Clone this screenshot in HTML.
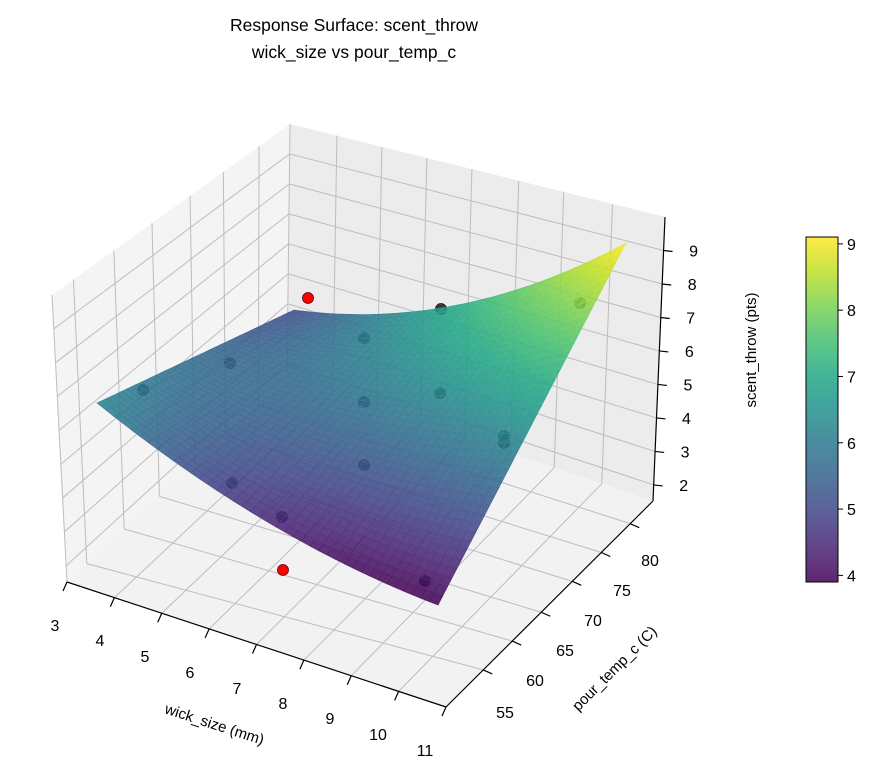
<!DOCTYPE html>
<html><head><meta charset="utf-8"><style>
html,body{margin:0;padding:0;background:#fff;}
svg{display:block;font-family:"Liberation Sans","DejaVu Sans",sans-serif;}
</style></head><body>
<svg id="s" width="883" height="775" viewBox="0 0 883 775" xmlns="http://www.w3.org/2000/svg">
<defs>
<linearGradient id="cb" x1="0" y1="1" x2="0" y2="0">
<stop offset="0" stop-color="#440154"/><stop offset="0.1" stop-color="#482475"/><stop offset="0.2" stop-color="#414487"/><stop offset="0.3" stop-color="#355f8d"/><stop offset="0.4" stop-color="#2a788e"/><stop offset="0.5" stop-color="#21918c"/><stop offset="0.6" stop-color="#22a884"/><stop offset="0.7" stop-color="#44bf70"/><stop offset="0.8" stop-color="#7ad151"/><stop offset="0.9" stop-color="#bddf26"/><stop offset="1" stop-color="#fde725"/>
</linearGradient>
</defs>
<text x="354" y="31" font-size="17.5" text-anchor="middle">Response Surface: scent_throw</text>
<text x="354" y="58" font-size="17.5" text-anchor="middle">wick_size vs pour_temp_c</text>
<polygon points="67,582 52,295 290,124 287,378" fill="#f4f4f4"/>
<polygon points="287,378 290,124 665,217 653,501" fill="#ececec"/>
<polygon points="67,582 446,707 653,501 287,378" fill="#f2f2f2"/>
<g id="grid" stroke="#bdbdbd" stroke-width="1" fill="none"></g>
<g id="pts0"></g>
<g id="surf"></g>
<g id="pts1"></g>
<g id="axes" stroke="#000" stroke-width="1.2" fill="none"></g>
<g id="lbl" font-size="16" fill="#000"></g>
<text x="213" y="729" font-size="15" text-anchor="middle" transform="rotate(18 213 729)">wick_size (mm)</text>
<text x="618" y="672" font-size="15" text-anchor="middle" transform="rotate(-45 618 672)">pour_temp_c (C)</text>
<text x="756" y="350" font-size="15" text-anchor="middle" transform="rotate(-90 756 350)">scent_throw (pts)</text>
<rect x="806" y="237" width="32" height="345" fill="url(#cb)" fill-opacity="0.85" stroke="#000" stroke-width="1"/>
<g id="cbt" font-size="16"></g>
</svg>
<script>
var NS="http://www.w3.org/2000/svg";
function el(p,t,a,txt){var e=document.createElementNS(NS,t);for(var k in a)e.setAttribute(k,a[k]);if(txt!==undefined)e.textContent=txt;document.getElementById(p).appendChild(e);return e;}
function lerp(a,b,t){return [a[0]+(b[0]-a[0])*t,a[1]+(b[1]-a[1])*t];}
var L=[67,582],Lt=[52,295],B=[287,378],Bt=[290,124],R=[653,501],Rt=[665,217],F=[446,707];
function ln(a,b){el("grid","line",{x1:a[0],y1:a[1],x2:b[0],y2:b[1]});}
var pL=[0.09,0.26,0.42,0.58,0.72,0.87], pF=[0.18,0.32,0.46,0.61,0.75,0.89];
pL.forEach(function(p,i){ln(lerp(L,B,p),lerp(Lt,Bt,p));ln(lerp(L,B,p),lerp(F,R,pF[i]));});
var qB=[0.125,0.245,0.365,0.485,0.61,0.73,0.86];
qB.forEach(function(q,i){var u=(i+1)/8;ln(lerp(B,R,q),lerp(Bt,Rt,q));ln(lerp(B,R,q),lerp(L,F,u));});
for(var z=2;z<=9;z++){var w=(z-1.52)/8.48;var a=lerp(L,Lt,w),b=lerp(B,Bt,w),c=lerp(R,Rt,w);ln(a,b);ln(b,c);}
ln(Lt,L);ln(Bt,B);
var stops=["#440154","#482475","#414487","#355f8d","#2a788e","#21918c","#22a884","#44bf70","#7ad151","#bddf26","#fde725"];
function hx(h){return [parseInt(h.substr(1,2),16),parseInt(h.substr(3,2),16),parseInt(h.substr(5,2),16)];}
function vir(v){v=Math.max(0,Math.min(1,v));var f=v*10,i=Math.min(9,Math.floor(f)),t=f-i;var a=hx(stops[i]),b=hx(stops[i+1]);return "rgb("+[0,1,2].map(function(k){return Math.round(a[k]+(b[k]-a[k])*t);}).join(",")+")";}
var SL=[97,403],SF=[438,605],SB=[294,310],SR=[626,243];
function P(s,t){var a=lerp(SL,SF,s),b=lerp(SB,SR,s),p=lerp(a,b,t);p[1]+=4*s*(1-s)*(18*(1-t)+28*t);return p;}
function C(s,t){return 0.45*(1-s)*(1-t)+0.0*s*(1-t)+0.22*(1-s)*t+1.0*s*t-0.12*4*s*(1-s)*(1-t);}
var N=40;
for(var i=0;i<N;i++)for(var j=0;j<N;j++){var s0=i/N,s1=(i+1)/N,t0=j/N,t1=(j+1)/N;var ps=[P(s0,t0),P(s1,t0),P(s1,t1),P(s0,t1)];var col=vir(C((s0+s1)/2,(t0+t1)/2));
el("surf","polygon",{points:ps.map(function(p){return p[0].toFixed(1)+","+p[1].toFixed(1);}).join(" "),fill:col,stroke:col,"stroke-width":"0.6","fill-opacity":"0.86","stroke-opacity":"0.86"});}
for(var k=1;k<N;k+=1){var col="rgba(255,255,255,0.12)";var a=[],b=[];for(var m=0;m<=N;m++){a.push(P(k/N,m/N).join(","));b.push(P(m/N,k/N).join(","));}
el("surf","polyline",{points:a.join(" "),fill:"none",stroke:col,"stroke-width":"0.5"});el("surf","polyline",{points:b.join(" "),fill:"none",stroke:col,"stroke-width":"0.5"});}
[[143,390],[230,363],[364,338],[441,309],[580,303],[364,402],[440,393],[504,436],[504,443],[364,465],[232,483],[282,517],[425,581]].forEach(function(p){el("pts0","circle",{cx:p[0],cy:p[1],r:5.5,fill:"#3a3a3a",stroke:"#111","stroke-width":"0.8"});});
[[308,298],[283,570]].forEach(function(p){el("pts1","circle",{cx:p[0],cy:p[1],r:5.5,fill:"#ff0000",stroke:"#600","stroke-width":"0.8"});});
function al(a,b){el("axes","line",{x1:a[0],y1:a[1],x2:b[0],y2:b[1]});}
al(L,F);al(F,R);al(R,Rt);
for(var u=0;u<=8;u++){var p=lerp(L,F,u/8);al(p,[p[0]-4,p[1]+9]);}
var wl=[[55,625],[100,640],[145,656],[190,672],[237,688],[283,703],[330,718],[378,734],[425,750]];
wl.forEach(function(p,i){el("lbl","text",{x:p[0],y:p[1]+6,"text-anchor":"middle"},String(3+i));});
pF.forEach(function(p,i){var q=lerp(F,R,p);al(q,[q[0]+9,q[1]+4]);});
var tl=[[505,712],[535,680],[565,650],[593,620],[622,590],[650,560]];
tl.forEach(function(p,i){el("lbl","text",{x:p[0],y:p[1]+6,"text-anchor":"middle"},String(55+5*i));});
for(var z=2;z<=9;z++){var w=(z-1.52)/8.48;var q=lerp(R,Rt,w);al(q,[q[0]+9,q[1]+1]);el("lbl","text",{x:q[0]+30,y:q[1]+6,"text-anchor":"middle"},String(z));}
for(var v=4;v<=9;v++){var y=582-(v-3.9)*66.3;el("cbt","line",{x1:838,y1:y,x2:843,y2:y,stroke:"#000"});el("cbt","text",{x:847,y:y+6},String(v));}
</script>
</body></html>
